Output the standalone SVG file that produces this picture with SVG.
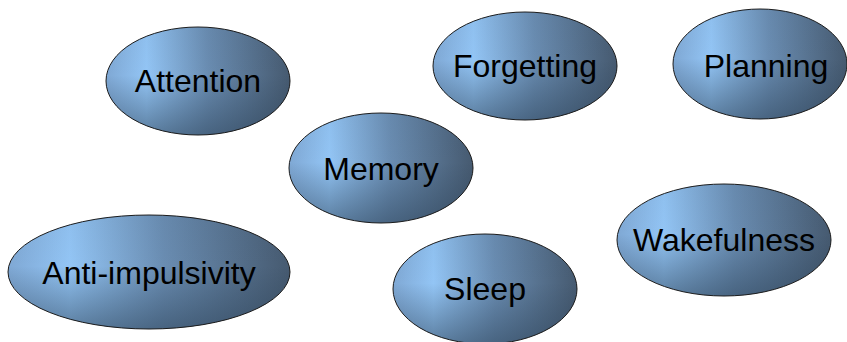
<svg xmlns="http://www.w3.org/2000/svg" width="847" height="342" viewBox="0 0 847 342">
<defs>
<linearGradient id="h" x1="0" y1="0" x2="1" y2="0">
<stop offset="0" stop-color="#7fa8d4"/>
<stop offset="0.22" stop-color="#93c5f5"/>
<stop offset="0.55" stop-color="#6a8db2"/>
<stop offset="1" stop-color="#465a70"/>
</linearGradient>
<linearGradient id="v" x1="0" y1="0" x2="0" y2="1">
<stop offset="0" stop-color="#2c4258" stop-opacity="0.05"/>
<stop offset="0.45" stop-color="#2c4258" stop-opacity="0"/>
<stop offset="1" stop-color="#2c4258" stop-opacity="0.55"/>
</linearGradient>
<style>
.b{fill:url(#h)}
.o{fill:url(#v);stroke:#1c1c1c;stroke-width:1}
text{font-family:"Liberation Sans",Arial,sans-serif;font-size:32px;fill:#000;text-anchor:middle}
</style>
</defs>
<g id="connectors"/>
<g id="attention"><ellipse class="b" cx="198" cy="81" rx="92" ry="54"/><ellipse class="o" cx="198" cy="81" rx="92" ry="54"/><text x="198" y="92">Attention</text></g>
<g id="forgetting"><ellipse class="b" cx="525" cy="66" rx="92" ry="54"/><ellipse class="o" cx="525" cy="66" rx="92" ry="54"/><text x="525" y="77">Forgetting</text></g>
<g id="planning"><ellipse class="b" cx="760" cy="64" rx="87" ry="55"/><ellipse class="o" cx="760" cy="64" rx="87" ry="55"/><text x="766" y="77">Planning</text></g>
<g id="memory"><ellipse class="b" cx="381" cy="168" rx="92" ry="55"/><ellipse class="o" cx="381" cy="168" rx="92" ry="55"/><text x="381" y="180">Memory</text></g>
<g id="anti"><ellipse class="b" cx="149" cy="272" rx="141" ry="57"/><ellipse class="o" cx="149" cy="272" rx="141" ry="57"/><text x="149" y="284">Anti-impulsivity</text></g>
<g id="sleep"><ellipse class="b" cx="485" cy="289" rx="92" ry="55"/><ellipse class="o" cx="485" cy="289" rx="92" ry="55"/><text x="485" y="300">Sleep</text></g>
<g id="wakefulness"><ellipse class="b" cx="724" cy="240" rx="107" ry="56"/><ellipse class="o" cx="724" cy="240" rx="107" ry="56"/><text x="724" y="251">Wakefulness</text></g>
</svg>
